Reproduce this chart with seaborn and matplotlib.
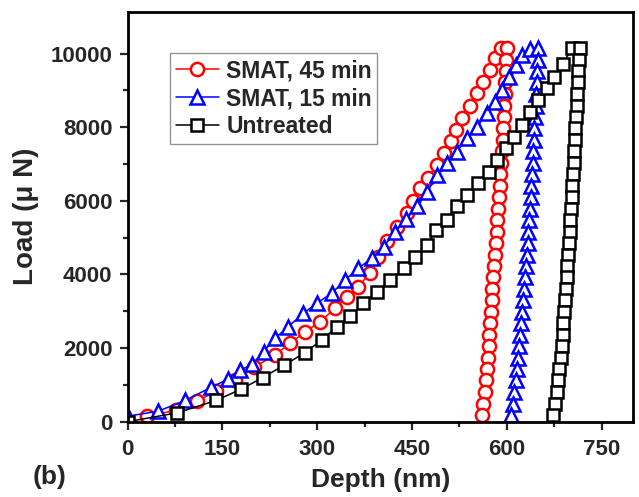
import matplotlib
matplotlib.use("Agg")
import matplotlib.pyplot as plt
import seaborn as sns
import pandas as pd

# ---------------- data ----------------
labels = ["SMAT, 45 min", "SMAT, 15 min", "Untreated"]

# SMAT, 45 min : loading branch
red_load_depth = [30, 77, 110, 140, 170, 200, 233, 257, 281, 305, 328, 347, 365, 383,
                  396, 410, 426, 442, 452, 463, 476, 489, 500, 511, 520, 529, 542, 553,
                  563, 574, 582, 590]
red_load_force = [150, 310, 560, 830, 1120, 1480, 1812, 2130, 2445, 2717, 3081, 3396,
                  3668, 4030, 4470, 4900, 5300, 5662, 6000, 6341, 6620, 6970, 7300, 7620,
                  7925, 8243, 8577, 8923, 9238, 9556, 9873, 10145]
# SMAT, 45 min : unloading branch
red_unload_depth = [600.0, 599.3, 598.6, 597.8, 597.0, 596.1, 595.2, 594.2, 593.2, 592.1,
                    591.0, 589.9, 588.7, 587.5, 586.3, 585.0, 583.7, 582.3, 580.8, 579.6,
                    578.3, 577.1, 575.9, 574.6, 573.4, 572.3, 571.3, 570.1, 568.8, 567.2,
                    565.3, 563.0, 560.0]

# SMAT, 15 min : loading branch
blue_load_depth = [0, 48, 91, 132, 158, 178, 197, 215, 233, 254, 278, 299, 323, 344, 365,
                   386, 405, 423, 441, 458, 474, 490, 505, 521, 537, 553, 569, 582, 592,
                   603, 614, 624, 636]
blue_load_force = [150, 284, 578, 933, 1150, 1400, 1560, 1900, 2266, 2581, 2945, 3217,
                   3489, 3850, 4168, 4440, 4755, 5150, 5500, 5850, 6250, 6703, 7021, 7336,
                   7700, 8015, 8379, 8694, 9012, 9374, 9692, 9950, 10120]
# SMAT, 15 min : unloading branch
blue_unload_depth = [649.5, 649.0, 648.3, 647.5, 646.6, 645.7, 644.7, 643.7, 642.7, 641.7,
                     640.7, 639.6, 638.6, 637.5, 636.4, 635.3, 634.1, 632.9, 631.7, 630.4,
                     629.0, 627.6, 626.2, 624.7, 623.0, 621.4, 619.7, 617.9, 616.0, 613.9,
                     611.6, 609.0, 605.8]

# Untreated : loading branch
black_load_depth = [0, 78, 140, 180, 214, 247, 280, 307, 331, 352, 373, 394, 415, 437, 455,
                    474, 488, 505, 521, 537, 555, 571, 585, 598, 611, 624, 637, 650, 664,
                    674, 689, 703]
black_load_force = [0, 240, 578, 889, 1200, 1529, 1870, 2218, 2580, 2878, 3214, 3530, 3847,
                    4164, 4480, 4797, 5200, 5476, 5850, 6155, 6477, 6793, 7110, 7428, 7743,
                    8061, 8423, 8740, 9058, 9374, 9730, 10150]
# Untreated : unloading branch
black_unload_depth = [715.0, 714.1, 713.2, 712.3, 711.4, 710.5, 709.6, 708.6, 707.7, 706.7,
                      705.7, 704.7, 703.6, 702.6, 701.5, 700.5, 699.3, 698.2, 697.1, 695.9,
                      694.7, 693.5, 692.2, 690.8, 689.5, 688.1, 686.6, 685.0, 683.3, 681.5,
                      679.0, 676.5, 672.5]

# load levels of the unloading branches (shared by the three samples)
unload_force = [10150, 9840, 9530, 9220, 8900, 8590, 8280, 7970, 7660, 7350, 7030, 6720,
                6410, 6100, 5790, 5480, 5160, 4850, 4540, 4230, 3920, 3610, 3300, 2980,
                2670, 2360, 2050, 1740, 1430, 1120, 800, 490, 180]

x_ticks = [0, 150, 300, 450, 600, 750]
y_ticks = [0, 2000, 4000, 6000, 8000, 10000]

# ---------------- build tables ----------------
frames = [
    pd.DataFrame({"depth": red_load_depth + red_unload_depth,
                  "load": red_load_force + unload_force}),
    pd.DataFrame({"depth": blue_load_depth + blue_unload_depth,
                  "load": blue_load_force + unload_force}),
    pd.DataFrame({"depth": black_load_depth + black_unload_depth,
                  "load": black_load_force + unload_force}),
]
colors = ["#FF0000", "#0000FF", "#000000"]
markers = ["o", "^", "s"]
msizes = [9.5, 10.5, 8.0]

# ---------------- style ----------------
sns.set_style("white")
plt.rcParams["font.family"] = ["Liberation Sans", "DejaVu Sans"]
plt.rcParams["font.weight"] = "bold"

fig = plt.figure(figsize=(6.39, 4.97), dpi=100)
ax = fig.add_axes([0.1998, 0.1515, 0.7912, 0.825])

for df, lab, c, m, ms in zip(frames, labels, colors, markers, msizes):
    sns.lineplot(data=df, x="depth", y="load", ax=ax, sort=False, estimator=None,
                 color=c, linewidth=1.1, marker=m, markersize=ms,
                 markerfacecolor="white", markeredgecolor=c, markeredgewidth=1.8,
                 label=lab)

ax.set_xlim(0, 800)
ax.set_ylim(0, 11140)
ax.set_xticks(x_ticks)
ax.set_yticks(y_ticks)
ax.set_xticks([75, 225, 375, 525, 675], minor=True)
ax.set_yticks([1000, 3000, 5000, 7000, 9000], minor=True)
ax.set_xticklabels([str(v) for v in x_ticks])
ax.set_yticklabels([str(v) for v in y_ticks])

ax.tick_params(which="major", direction="out", length=6, width=1.6, labelsize=16,
               pad=5, bottom=True, left=True, top=False, right=False)
ax.tick_params(axis="x", which="major", pad=6.5)
ax.tick_params(which="minor", direction="out", length=3.5, width=1.6,
               bottom=True, left=True, top=False, right=False)
for lbl in ax.get_xticklabels() + ax.get_yticklabels():
    lbl.set_fontweight("bold")

for sp in ax.spines.values():
    sp.set_visible(True)
    sp.set_linewidth(2.0)
    sp.set_color("black")

ax.set_xlabel("Depth (nm)", fontsize=19, fontweight="bold", labelpad=6)
ax.set_ylabel("Load (\u03bc N)", fontsize=20, fontweight="bold", labelpad=8)

leg = ax.legend(loc="upper left", bbox_to_anchor=(0.0837, 0.8985), borderaxespad=0,
                fontsize=16.5, frameon=True, fancybox=False, handlelength=1.9,
                handletextpad=0.3, labelspacing=0.22, borderpad=0.25)
leg.get_frame().set_edgecolor("#7a7a7a")
leg.get_frame().set_linewidth(1.0)
for t in leg.get_texts():
    t.set_fontweight("bold")

fig.text(0.078, 0.041, "(b)", fontsize=19, fontweight="bold", ha="center", va="center")

fig.savefig("out.png", dpi=100, facecolor="white")
